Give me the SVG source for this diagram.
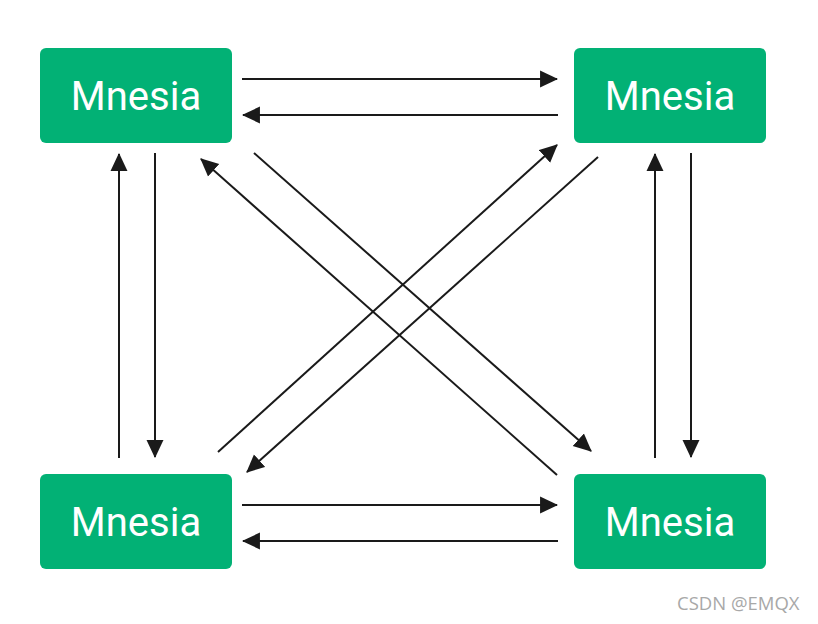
<svg xmlns="http://www.w3.org/2000/svg" width="818" height="624" viewBox="0 0 818 624">
  <style>
    .box { fill: #02B175; }
    .lbl { fill: #ffffff; font-family: Roboto, "Liberation Sans", sans-serif; font-size: 40px; text-anchor: middle; }
    .edge { stroke: #1a1a1a; stroke-width: 2; fill: none; }
    .wm { fill: #a8a8a8; font-family: "Open Sans", "Noto Sans", sans-serif; font-size: 18.5px; }
  </style>
  <defs>
    <marker id="arr" markerUnits="userSpaceOnUse" markerWidth="18" markerHeight="18" viewBox="0 0 17 16" refX="16" refY="8" orient="auto">
      <path d="M0,0 L17,8 L0,16 z" fill="#1a1a1a"/>
    </marker>
  </defs>
  <rect width="818" height="624" fill="#ffffff"/>
  <g id="node-tl">
    <rect class="box" x="40" y="48" width="192" height="95" rx="6"/>
    <text class="lbl" x="136" y="110">Mnesia</text>
  </g>
  <g id="node-tr">
    <rect class="box" x="574" y="48" width="192" height="95" rx="6"/>
    <text class="lbl" x="670" y="110">Mnesia</text>
  </g>
  <g id="node-bl">
    <rect class="box" x="40" y="474" width="192" height="95" rx="6"/>
    <text class="lbl" x="136" y="536">Mnesia</text>
  </g>
  <g id="node-br">
    <rect class="box" x="574" y="474" width="192" height="95" rx="6"/>
    <text class="lbl" x="670" y="536">Mnesia</text>
  </g>
  <g id="connectors">
    <line class="edge" x1="242" y1="79" x2="557" y2="79" marker-end="url(#arr)"/>
    <line class="edge" x1="558" y1="115" x2="243" y2="115" marker-end="url(#arr)"/>
    <line class="edge" x1="242" y1="505" x2="557" y2="505" marker-end="url(#arr)"/>
    <line class="edge" x1="558" y1="541" x2="243" y2="541" marker-end="url(#arr)"/>
    <line class="edge" x1="119" y1="458" x2="119" y2="154" marker-end="url(#arr)"/>
    <line class="edge" x1="155" y1="153" x2="155" y2="457" marker-end="url(#arr)"/>
    <line class="edge" x1="655" y1="458" x2="655" y2="154" marker-end="url(#arr)"/>
    <line class="edge" x1="691" y1="153" x2="691" y2="457" marker-end="url(#arr)"/>
    <line class="edge" x1="254" y1="153" x2="591" y2="451" marker-end="url(#arr)"/>
    <line class="edge" x1="557" y1="475" x2="201" y2="159" marker-end="url(#arr)"/>
    <line class="edge" x1="218" y1="452" x2="557" y2="145" marker-end="url(#arr)"/>
    <line class="edge" x1="598" y1="157" x2="247" y2="472" marker-end="url(#arr)"/>
  </g>
  <text class="wm" x="677" y="610">CSDN @EMQX</text>
</svg>
